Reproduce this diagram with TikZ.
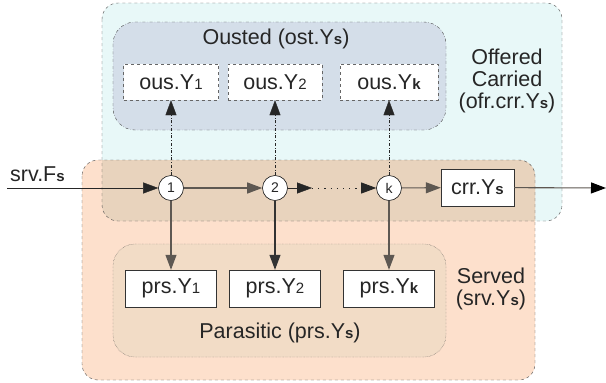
\documentclass[tikz,border=0pt]{standalone}
\usepackage{fontspec}
\setmainfont{Liberation Sans}
\usetikzlibrary{arrows.meta}
\definecolor{offfill}{HTML}{E8F8F8}
\definecolor{srvfill}{HTML}{FDE0CC}
\definecolor{bothfill}{HTML}{E8D3BD}
\definecolor{ostfill}{HTML}{D4DEE9}
\definecolor{prsfill}{HTML}{F2DCC6}
\definecolor{linegray}{HTML}{5E5852}
\newcommand\subs[1]{{\fontsize{15}{15}\selectfont #1}}
\begin{document}
\begin{tikzpicture}[x=1pt,y=-1pt,
  every node/.style={font=\fontsize{21.5}{25}\selectfont,text=black!85},
  ousbox/.style={draw=gray!80!black,dashed,thin,fill=white,minimum height=36,inner sep=0},
  prsbox/.style={draw=black!80,fill=white,minimum height=37,inner sep=0},
  junction/.style={circle,draw=black!90,semithick,fill=white,minimum size=25,inner sep=0,font=\fontsize{14}{14}\selectfont},
  tip/.style={-{Triangle[length=15pt,width=11pt]}},
  region/.style={draw=gray!60!black,dashed,thin}]
  \useasboundingbox (0,0) rectangle (606,383);

  % regions
  \fill[offfill,rounded corners=16] (102,3) rectangle (562,221);
  \fill[srvfill,rounded corners=16] (82,160) rectangle (535,380);
  \begin{scope}
    \clip[rounded corners=16] (102,3) rectangle (562,221);
    \fill[bothfill,rounded corners=16] (82,160) rectangle (535,380);
  \end{scope}
  \draw[region,rounded corners=16] (102,3) rectangle (562,221);
  \draw[region,rounded corners=16] (82,160) rectangle (535,380);
  \draw[gray!60!black,dashdotted,thin,fill=ostfill,rounded corners=22] (113,22) rectangle (446,130);
  \draw[gray!60!black,densely dotted,thin,fill=prsfill,rounded corners=22] (113,244) rectangle (446,357);

  \node (ost) at (276,39) {Ousted (ost.Y\subs{\bfseries s})};
  \node (prs) at (280,333) {Parasitic (prs.Y\subs{\bfseries s})};
  \node[align=center] (ofr) at (507,81) {Offered\\[-3pt]Carried\\[-3pt](ofr.crr.Y\subs{\bfseries s})};
  \node[align=center] (srv) at (491,289) {Served\\[-3pt](srv.Y\subs{\bfseries s})};
  \node[anchor=south west,inner sep=0] (fs) at (10,182) {srv.F\subs{\bfseries s}};

  % columns
  \foreach \n/\x/\w in {1/171/95,2/275/94,k/389/98}
    {\node[junction] (c\n) at (\x,188) {\n};
     \node[ousbox,minimum width=\w] (ous\n) at (\x,82) {ous.Y\subs{\if k\n\bfseries\fi\n}};
     \node[prsbox,minimum width=91] (prs\n) at (\x,288.5) {prs.Y\subs{\if k\n\bfseries\fi\n}};}
  \node[prsbox,minimum width=73] (crr) at (477.5,187.5) {crr.Y\subs{\bfseries s}};

  \coordinate (in) at (7,188);
  \coordinate (out) at (606,188);
  \coordinate (dots) at (312,188);

  % connectors
  \draw[tip,black!85] (in) -- (c1);
  \draw[tip,linegray,line width=1.1pt] (c1) -- (c2);
  \draw[tip,black!85] (c2) -- (dots);
  \draw[tip,black!85,dash pattern=on 1.2pt off 5pt,thick] (dots) -- (ck);
  \draw[tip,linegray,line width=1.1pt] (ck) -- (crr);
  \draw[linegray,line width=1.1pt,-{Triangle[length=15pt,width=11pt,black]}] (crr) -- (out);

  \draw[tip,linegray,line width=1.1pt] (c1) -- (prs1);
  \draw[tip,black!80,line width=1.1pt] (c2) -- (prs2);
  \draw[tip,linegray,line width=1.1pt] (ck) -- (prsk);
  \foreach \n in {1,2,k}
    \draw[gray!30!black,dashdotted,thin,-{Triangle[length=15pt,width=11pt,black!85]}] (c\n) -- (ous\n);
\end{tikzpicture}
\end{document}
